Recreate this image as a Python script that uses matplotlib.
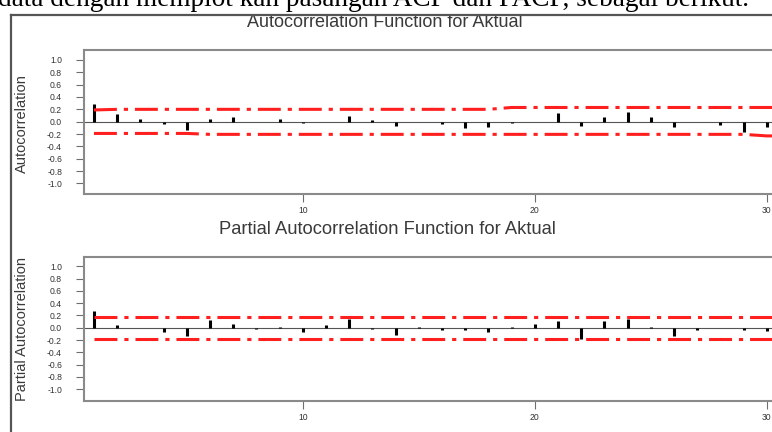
import matplotlib
matplotlib.use("Agg")
import matplotlib.pyplot as plt
from matplotlib.lines import Line2D

# lags shown
LAGS = list(range(1, 31))
LIMIT_LAGS = list(range(1, 32))

ACF = [0.28, 0.125, 0.05, -0.04, -0.135, 0.04, 0.07, 0.0, 0.05, -0.02,
       0.0, 0.10, 0.02, -0.065, 0.0, -0.04, -0.11, -0.09, -0.02, 0.0,
       0.135, -0.07, 0.07, 0.15, 0.07, -0.09, 0.0, -0.05, -0.16, -0.09]

PACF = [0.28, 0.04, 0.0, -0.07, -0.135, 0.125, 0.06, -0.02, 0.02, -0.07,
        0.04, 0.14, -0.02, -0.11, 0.02, -0.04, -0.03, -0.07, 0.01, 0.06,
        0.105, -0.175, 0.115, 0.14, 0.02, -0.135, -0.04, 0.0, -0.04, -0.06]

ACF_UPPER = [0.19, 0.20, 0.20, 0.20, 0.20, 0.20, 0.20, 0.20, 0.20, 0.20,
             0.20, 0.20, 0.20, 0.20, 0.20, 0.20, 0.20, 0.20, 0.23, 0.23,
             0.23, 0.23, 0.23, 0.23, 0.23, 0.23, 0.23, 0.23, 0.23, 0.23, 0.23]
ACF_LOWER = [-0.19, -0.19, -0.19, -0.19, -0.19, -0.205, -0.205, -0.205, -0.205, -0.205,
             -0.205, -0.205, -0.205, -0.205, -0.205, -0.205, -0.205, -0.205, -0.205, -0.205,
             -0.205, -0.205, -0.205, -0.205, -0.205, -0.205, -0.205, -0.205, -0.205, -0.23, -0.23]

PACF_UPPER = [0.18] * 31
PACF_LOWER = [-0.185] * 31

Y_TICKS = [-1.0, -0.8, -0.6, -0.4, -0.2, 0.0, 0.2, 0.4, 0.6, 0.8, 1.0]
X_TICKS = [10, 20, 30]

W, H = 772, 432
SANS = "Liberation Sans"
GRAY = "#6e6e6e"
RED = "#ff1f1f"

plt.rcParams["lines.scale_dashes"] = False


def px_box(left, top, right, bottom):
    return [left / W, 1 - bottom / H, (right - left) / W, (bottom - top) / H]


def draw_panel(ax, values, upper, lower, ylim):
    ax.vlines(LAGS, 0, values, colors="black", linewidth=2.2, zorder=3)
    ax.axhline(0, color="#555555", linewidth=0.8, zorder=2)
    for lim in (upper, lower):
        ax.plot(LIMIT_LAGS, lim, color=RED, linewidth=2.2,
                dashes=(16.5, 5, 3, 5), zorder=4)

    ax.set_xlim(0.57, 31.0)
    ax.set_ylim(*ylim)
    ax.set_yticks(Y_TICKS)
    ax.set_yticklabels([f"{t:.1f}" for t in Y_TICKS])
    ax.set_xticks(X_TICKS)
    ax.tick_params(axis="both", direction="out", length=5.8, width=0.8,
                   color=GRAY, labelsize=6.2, labelcolor="#333333")
    ax.tick_params(axis="y", pad=10)
    ax.tick_params(axis="x", pad=3)
    for lab in ax.get_xticklabels() + ax.get_yticklabels():
        lab.set_family(SANS)
    for sp in ax.spines.values():
        sp.set_color("#8a8a8a")
        sp.set_linewidth(1.5)


fig = plt.figure(figsize=(W / 100, H / 100), dpi=100)

ax1 = fig.add_axes(px_box(84, 50, 790, 194))
draw_panel(ax1, ACF, ACF_UPPER, ACF_LOWER, (-1.17, 1.16))

ax2 = fig.add_axes(px_box(84, 257, 790, 401))
draw_panel(ax2, PACF, PACF_UPPER, PACF_LOWER, (-1.19, 1.15))

# titles and axis labels
fig.text(385 / W, 1 - 27 / H, "Autocorrelation Function for Aktual",
         ha="center", va="baseline", fontsize=13, family=SANS, color="#3a3a3a")
fig.text(387 / W, 1 - 234 / H, "Partial Autocorrelation Function for Aktual",
         ha="center", va="baseline", fontsize=13.2, family=SANS, color="#3a3a3a")
fig.text(22 / W, 1 - 124 / H, "Autocorrelation", rotation=90,
         ha="center", va="center", fontsize=10.5, family=SANS, color="#3a3a3a")
fig.text(22 / W, 1 - 329 / H, "Partial Autocorrelation", rotation=90,
         ha="center", va="center", fontsize=10.5, family=SANS, color="#3a3a3a")

# outer frame of the pasted graph, drawn over the title's top edge
fig.add_artist(Line2D([11 / W, 11 / W], [0, 1 - 15 / H], color="#555555",
                      linewidth=1.6, transform=fig.transFigure, zorder=10))
fig.add_artist(Line2D([11 / W, 1], [1 - 15 / H, 1 - 15 / H], color="#555555",
                      linewidth=1.6, transform=fig.transFigure, zorder=10))

# document text sitting above the figure (cut off at the top, as in the source)
fig.text(-2 / W, 1 - 6 / H,
         "data dengan memplot kan pasangan ACF dan PACF, sebagai berikut.",
         ha="left", va="baseline", fontsize=19.6, family="Liberation Serif",
         color="black")

fig.savefig("out.png", dpi=100)
